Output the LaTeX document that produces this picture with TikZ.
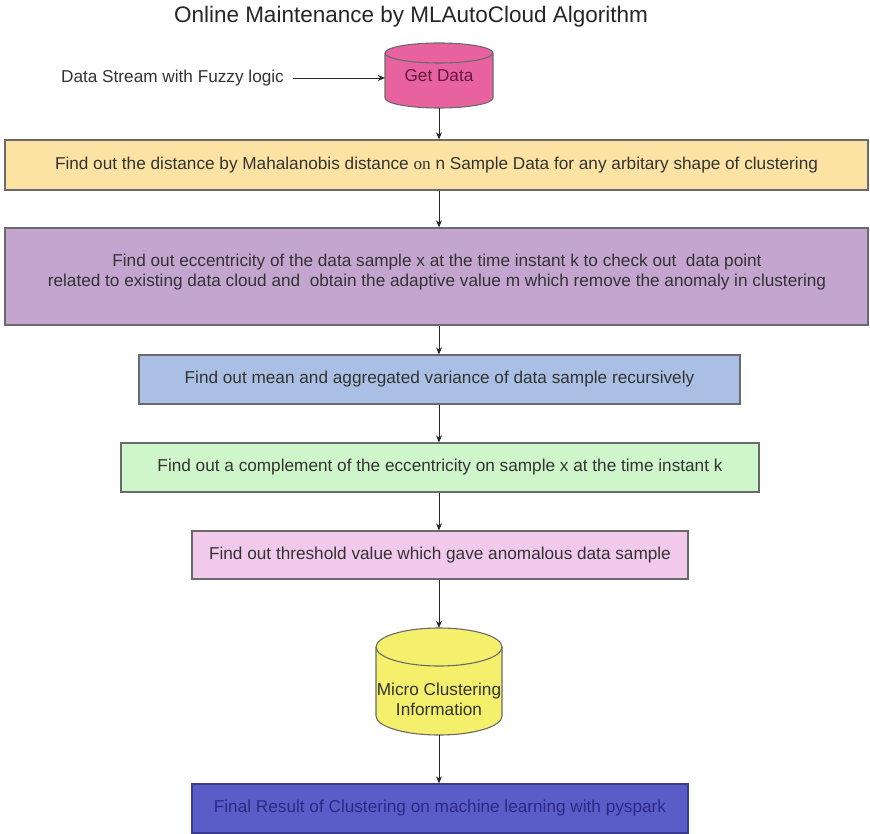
\documentclass[tikz,border=0pt]{standalone}
\usepackage{fontspec}
\setmainfont{Liberation Sans}
\newfontfamily\serifword{Liberation Serif}
\usetikzlibrary{arrows.meta}

\definecolor{edgegrey}{HTML}{6A6A6A}
\definecolor{txtgrey}{HTML}{333333}
\definecolor{drumpink}{HTML}{E8629F}
\definecolor{drumpinktext}{HTML}{5E1A3C}
\definecolor{drumyellow}{HTML}{F4F06C}
\definecolor{fillyellow}{HTML}{FCE3A3}
\definecolor{fillpurple}{HTML}{C3A5CF}
\definecolor{fillblue}{HTML}{A9C0E4}
\definecolor{fillgreen}{HTML}{CFF6CB}
\definecolor{fillpink}{HTML}{F1C9EC}
\definecolor{fillnavy}{HTML}{5A5CC8}
\definecolor{navytext}{HTML}{2A2A86}
\definecolor{navyedge}{HTML}{3A3A90}

\begin{document}
\begin{tikzpicture}[x=1pt,y=1pt,
  bodyfont/.style={font=\fontsize{17.2}{20.5}\selectfont},
  flowbox/.style={draw=edgegrey, line width=1.3pt, inner sep=0pt, align=center,
    text=txtgrey, bodyfont},
  drumedge/.style={draw=edgegrey, line width=1.1pt},
  link/.style={-{Stealth[length=7pt,width=6pt]}, line width=0.9pt, draw=black!85},
  plaintext/.style={inner sep=0pt, text=txtgrey, bodyfont}]

\useasboundingbox[fill=white] (0,0) rectangle (870,-834);

% title
\node[inner sep=0pt, text=black!85, font=\fontsize{22.5}{26}\selectfont]
  (title) at (411,-17) {Online Maintenance by MLAutoCloud Algorithm};

% input drum
\filldraw[drumedge, fill=drumpink]
  (385,-53) -- (385,-98) arc[start angle=180, end angle=360, x radius=54, y radius=10]
  -- (493,-53) arc[start angle=0, end angle=180, x radius=54, y radius=10] -- cycle;
\draw[drumedge] (385,-53) arc[start angle=180, end angle=360, x radius=54, y radius=10];
\node[inner sep=0pt, minimum width=108pt, minimum height=65pt, text=drumpinktext, bodyfont]
  (getdata) at (439,-75.5) {\raisebox{-2pt}{Get Data}};

\node[plaintext] (source) at (172.5,-78) {Data Stream with Fuzzy logic};
\coordinate (sourceout) at (293,-78);

% process boxes
\node[flowbox, fill=fillyellow, minimum width=863pt, minimum height=50pt]
  (dist) at (436.5,-165)
  {Find out the distance by Mahalanobis distance {\serifword on} n Sample Data for any arbitary shape of clustering};
\node[flowbox, fill=fillpurple, minimum width=863pt, minimum height=97pt]
  (ecc) at (436.5,-276.5) {};
\node[plaintext, align=center] (ecctext) at (437,-272)
  {Find out eccentricity of the data sample x at the time instant k to check out\ \ data point\\
   related to existing data cloud and\ \ obtain the adaptive value m which remove the anomaly in clustering};
\node[flowbox, fill=fillblue, minimum width=601pt, minimum height=49pt]
  (mean) at (439.5,-379.5)
  {Find out mean and aggregated variance of data sample recursively};
\node[flowbox, fill=fillgreen, minimum width=638pt, minimum height=49pt]
  (compl) at (440,-467.5)
  {Find out a complement of the eccentricity on sample x at the time instant k};
\node[flowbox, fill=fillpink, minimum width=496pt, minimum height=48pt]
  (thresh) at (440,-555)
  {Find out threshold value which gave anomalous data sample};

% micro-cluster drum
\filldraw[drumedge, fill=drumyellow]
  (376,-647) -- (376,-716) arc[start angle=180, end angle=360, x radius=63, y radius=19]
  -- (502,-647) arc[start angle=0, end angle=180, x radius=63, y radius=19] -- cycle;
\draw[drumedge] (376,-647) arc[start angle=180, end angle=360, x radius=63, y radius=19];
\node[inner sep=0pt, minimum width=126pt, minimum height=107pt] (micro) at (439,-681.5) {};
\node[plaintext, align=center, font=\fontsize{17.2}{20}\selectfont]
  (microtext) at (439,-699) {Micro Clustering\\Information};

\node[flowbox, fill=fillnavy, draw=navyedge, text=navytext,
  minimum width=496pt, minimum height=49pt]
  (final) at (440,-808.5)
  {Final Result of Clustering on machine learning with pyspark};

% connectors
\draw[link] (sourceout) -- (sourceout -| getdata.west);
\draw[link] (getdata.south -| 439,0) -- (dist.north -| 439,0);
\draw[link] (dist.south -| 439,0) -- (ecc.north -| 439,0);
\draw[link] (ecc.south -| 439,0) -- (mean.north -| 439,0);
\draw[link] (mean.south -| 439,0) -- (compl.north -| 439,0);
\draw[link] (compl.south -| 439,0) -- (thresh.north -| 439,0);
\draw[link] (thresh.south -| 439,0) -- (micro.north);
\draw[link] (micro.south) -- (final.north -| 439,0);
\end{tikzpicture}
\end{document}
